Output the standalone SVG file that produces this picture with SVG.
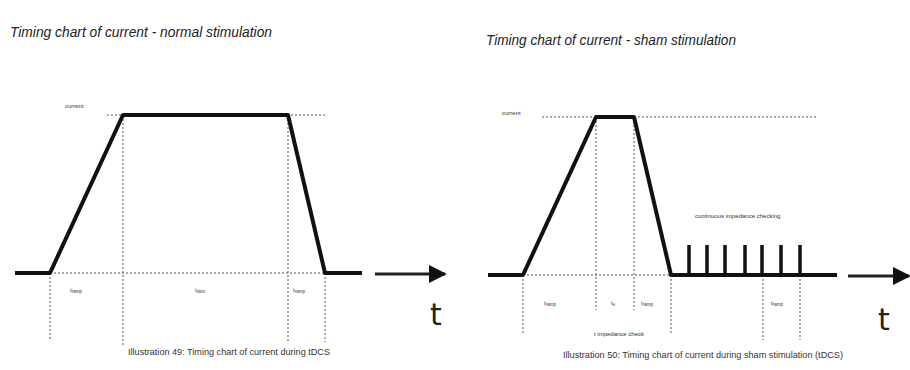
<svg xmlns="http://www.w3.org/2000/svg" width="910" height="370" viewBox="0 0 910 370">
<defs>
<style>
.title{font-family:"Liberation Sans",Arial,sans-serif;font-style:italic;font-size:15px;fill:#222}
.cap{font-family:"Liberation Sans",Arial,sans-serif;font-size:9.5px;fill:#333}
.tiny{font-family:"Liberation Sans",Arial,sans-serif;font-size:6px;fill:#333}
.big{font-family:"DejaVu Sans",sans-serif;font-size:30px;fill:#222}
.sig{fill:none;stroke:#111;stroke-width:4;stroke-linejoin:round}
.dot{fill:none;stroke:#555;stroke-width:1;stroke-dasharray:2,2}
.ax{stroke:#222;stroke-width:3}
</style>
<marker id="ah" viewBox="0 0 10 10" refX="9" refY="5" markerWidth="6" markerHeight="6" orient="auto" markerUnits="strokeWidth">
<path d="M0,0 L10,5 L0,10 z" fill="#111"/>
</marker>
</defs>
<rect width="910" height="370" fill="#fff"/>

<g id="title-normal"><text class="title" x="10" y="37" textLength="262" lengthAdjust="spacingAndGlyphs">Timing chart of current - normal stimulation</text></g>
<g id="title-sham"><text class="title" x="486" y="45" textLength="250" lengthAdjust="spacingAndGlyphs">Timing chart of current - sham stimulation</text></g>

<g id="chart-normal">
<g id="guides-normal">
<line class="dot" x1="107" y1="115" x2="327" y2="115"/>
<line class="dot" x1="50" y1="273" x2="325" y2="273"/>
<line class="dot" x1="50" y1="273" x2="50" y2="340"/>
<line class="dot" x1="123" y1="115" x2="123" y2="345"/>
<line class="dot" x1="288" y1="115" x2="288" y2="342"/>
<line class="dot" x1="325" y1="273" x2="325" y2="342"/>
</g>
<polyline class="sig" points="15,273 50,273 123,115 288,115 325,273 362,273"/>
<text class="tiny" x="65" y="108">current</text>
<text class="tiny" x="70" y="292">t<tspan font-size="4.5" dy="1">ramp</tspan></text>
<text class="tiny" x="195" y="292">t<tspan font-size="4.5" dy="1">stim</tspan></text>
<text class="tiny" x="293" y="292">t<tspan font-size="4.5" dy="1">ramp</tspan></text>
<line class="ax" x1="375" y1="274" x2="445" y2="274" marker-end="url(#ah)"/>
<text class="big" x="430" y="325">t</text>
</g>

<g id="chart-sham">
<g id="guides-sham">
<line class="dot" x1="542" y1="117" x2="818" y2="117"/>
<line class="dot" x1="523" y1="275" x2="671" y2="275"/>
<line class="dot" x1="523" y1="275" x2="523" y2="335"/>
<line class="dot" x1="596" y1="117" x2="596" y2="310"/>
<line class="dot" x1="634" y1="117" x2="634" y2="310"/>
<line class="dot" x1="671" y1="275" x2="671" y2="335"/>
<line class="dot" x1="763" y1="275" x2="763" y2="340"/>
<line class="dot" x1="800" y1="275" x2="800" y2="340"/>
</g>
<polyline class="sig" points="488,275 523,275 596,117 634,117 671,275 837,275"/>
<g id="pulses" stroke="#111" stroke-width="3.5">
<line x1="689" y1="245" x2="689" y2="275"/>
<line x1="707" y1="245" x2="707" y2="275"/>
<line x1="725" y1="245" x2="725" y2="275"/>
<line x1="745" y1="245" x2="745" y2="275"/>
<line x1="762" y1="245" x2="762" y2="275"/>
<line x1="781" y1="245" x2="781" y2="275"/>
<line x1="800" y1="245" x2="800" y2="275"/>
</g>
<text class="tiny" x="502" y="115">current</text>
<text class="tiny" x="695" y="218">continuous impedance checking</text>
<text class="tiny" x="544" y="305">t<tspan font-size="4.5" dy="1">ramp</tspan></text>
<text class="tiny" x="611" y="305">t<tspan font-size="4.5" dy="1">s</tspan></text>
<text class="tiny" x="641" y="305">t<tspan font-size="4.5" dy="1">ramp</tspan></text>
<text class="tiny" x="771" y="305">t<tspan font-size="4.5" dy="1">ramp</tspan></text>
<text class="tiny" x="594" y="336">t impedance check</text>
<line class="ax" x1="848" y1="276" x2="909" y2="276" marker-end="url(#ah)"/>
<text class="big" x="878" y="330">t</text>
</g>

<g id="captions">
<text class="cap" x="128" y="355" textLength="202" lengthAdjust="spacingAndGlyphs">Illustration 49: Timing chart of current during tDCS</text>
<text class="cap" x="563" y="358" textLength="280" lengthAdjust="spacingAndGlyphs">Illustration 50: Timing chart of current during sham stimulation (tDCS)</text>
</g>
</svg>
